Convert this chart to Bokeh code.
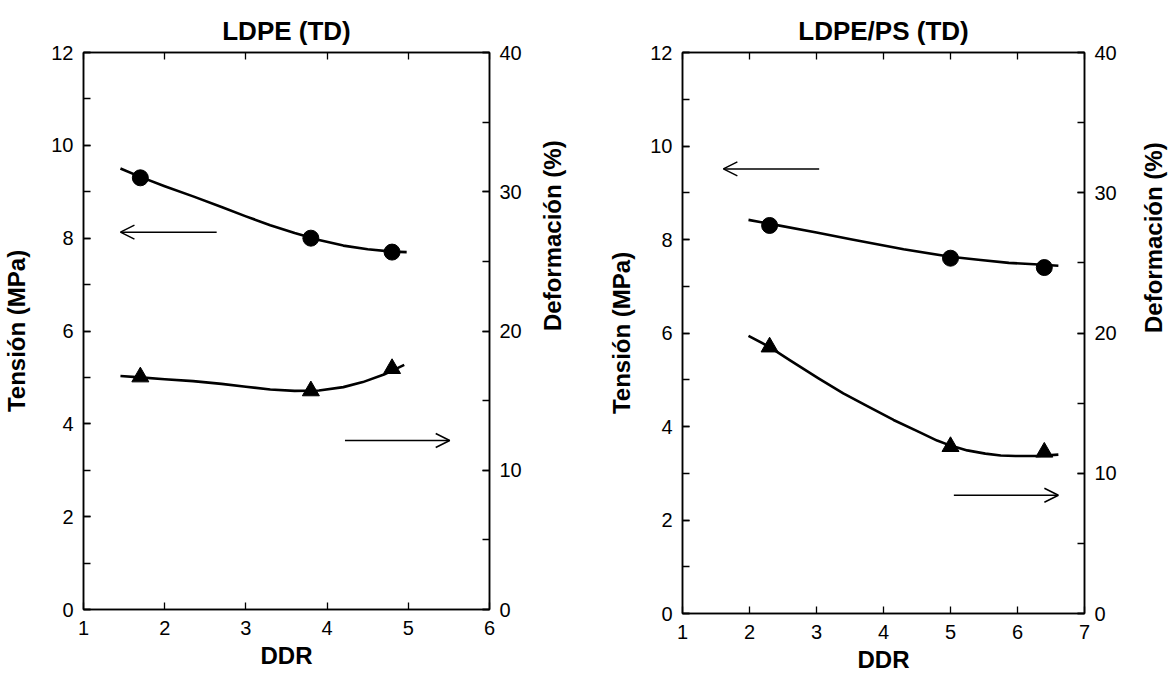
import math
from bokeh.plotting import figure
from bokeh.models import (LinearAxis, Range1d, SingleIntervalTicker, Arrow, OpenHead,
                          CustomJSTickFormatter)
from bokeh.layouts import row
from bokeh.embed import file_html
from bokeh.resources import INLINE

FONT = "Liberation Sans"

# ---------------- data: LDPE (TD) ----------------
ldpe_ddr = [1.7, 3.8, 4.8]
ldpe_tension = [9.3, 8.0, 7.7]          # MPa (left axis)
ldpe_deform = [16.7, 15.7, 17.3]        # % (right axis)
# fitted curves
ldpe_tension_curve_x = [1.455, 1.7, 2.0, 2.35, 2.7, 3.0, 3.3, 3.6, 3.9, 4.2, 4.5, 4.8, 4.98]
ldpe_tension_curve_y = [9.50, 9.32, 9.12, 8.90, 8.67, 8.47, 8.28, 8.11, 7.96, 7.84, 7.76, 7.71, 7.70]
ldpe_deform_curve_x = [1.455, 1.7, 2.0, 2.35, 2.7, 3.0, 3.3, 3.6, 3.9, 4.2, 4.44, 4.7, 4.95]
ldpe_deform_curve_y = [16.77, 16.67, 16.53, 16.40, 16.20, 16.00, 15.80, 15.70, 15.73, 15.97,
                       16.33, 16.87, 17.57]

# ---------------- data: LDPE/PS (TD) ----------------
blend_ddr = [2.3, 5.0, 6.4]
blend_tension = [8.3, 7.6, 7.4]
blend_deform = [19.0, 11.9, 11.5]
blend_tension_curve_x = [1.985, 2.29, 3.0, 3.53, 4.3, 5.0, 5.45, 5.87, 6.25, 6.61]
blend_tension_curve_y = [8.42, 8.34, 8.15, 8.00, 7.79, 7.63, 7.56, 7.50, 7.47, 7.44]
blend_deform_curve_x = [1.985, 2.29, 2.6, 3.03, 3.4, 3.78, 4.15, 4.52, 4.8, 5.0, 5.25,
                        5.52, 5.75, 5.97, 6.3, 6.61]
blend_deform_curve_y = [19.8, 19.03, 18.07, 16.77, 15.7, 14.73, 13.8, 12.97, 12.33, 11.97,
                        11.63, 11.4, 11.27, 11.23, 11.23, 11.33]

titles = ["LDPE (TD)", "LDPE/PS (TD)"]
x_label = "DDR"
y_label_left = "Tensión (MPa)"
y_label_right = "Deformación (%)"

# arrow annotations (x_start, x_end, y) in left-axis units
ldpe_arrows = [(2.64, 1.455, 8.13), (4.22, 5.51, 3.64)]
blend_arrows = [(3.04, 1.61, 9.51), (5.05, 6.61, 2.53)]


def style_axis(ax, label_size="20px"):
    ax.axis_line_width = 1.5
    ax.axis_line_color = "black"
    ax.major_tick_in = 7
    ax.major_tick_out = 0
    ax.minor_tick_in = 7
    ax.minor_tick_out = 0
    ax.major_tick_line_width = 1.3
    ax.minor_tick_line_width = 1.3
    ax.major_tick_line_color = "black"
    ax.minor_tick_line_color = "black"
    ax.major_label_text_font = FONT
    ax.major_label_text_font_size = label_size
    ax.major_label_text_color = "black"
    ax.axis_label_text_font = FONT
    ax.axis_label_text_font_size = "24px"
    ax.axis_label_text_font_style = "bold"
    ax.axis_label_text_color = "black"


def make_panel(title, xmax, ddr, tension, deform, tcx, tcy, dcx, dcy, arrows,
               bl, br, bt, bb, fw, fh, left_title_standoff, right_title_standoff):
    p = figure(frame_width=fw, frame_height=fh,
               min_border_left=bl, min_border_right=br,
               min_border_top=bt, min_border_bottom=bb,
               x_range=Range1d(1, xmax), y_range=Range1d(0, 12),
               output_backend="svg", toolbar_location=None,
               background_fill_color="white", border_fill_color="white")
    p.extra_y_ranges = {"def": Range1d(0, 40)}
    p.xgrid.visible = False
    p.ygrid.visible = False
    p.outline_line_color = "black"
    p.outline_line_width = 1.5

    p.title.text = title
    p.title.align = "center"
    p.title.text_font = FONT
    p.title.text_font_size = "26px"
    p.title.text_font_style = "bold"
    p.title.text_color = "black"
    p.title.standoff = 14

    # bottom axis
    p.xaxis.ticker = SingleIntervalTicker(interval=1, num_minor_ticks=0)
    p.xaxis.axis_label = x_label
    style_axis(p.xaxis[0])
    p.xaxis.major_label_standoff = 11
    p.xaxis.axis_label_standoff = 4

    # left axis
    p.yaxis.ticker = SingleIntervalTicker(interval=2, num_minor_ticks=2)
    p.yaxis.axis_label = y_label_left
    style_axis(p.yaxis[0])
    p.yaxis.major_label_standoff = 10
    p.yaxis.axis_label_standoff = left_title_standoff

    # right axis
    ra = LinearAxis(y_range_name="def",
                    ticker=SingleIntervalTicker(interval=10, num_minor_ticks=2),
                    axis_label=y_label_right)
    style_axis(ra)
    ra.major_label_standoff = 10
    ra.axis_label_standoff = right_title_standoff
    ra.axis_label_orientation = math.pi / 2
    p.add_layout(ra, "right")

    # top axis (ticks only, no labels)
    ta = LinearAxis(ticker=SingleIntervalTicker(interval=1, num_minor_ticks=0),
                    formatter=CustomJSTickFormatter(code="return ''"))
    style_axis(ta)
    ta.major_label_standoff = 0
    p.add_layout(ta, "above")

    # fitted curves
    p.line(tcx, tcy, line_color="black", line_width=2.6, line_join="round")
    p.line(dcx, dcy, line_color="black", line_width=2.6, line_join="round",
           y_range_name="def")

    # markers
    p.scatter(ddr, tension, marker="circle", size=16, fill_color="black",
              line_color="black")
    p.scatter(ddr, deform, marker="triangle", size=17, fill_color="black",
              line_color="black", y_range_name="def")

    for xs, xe, y in arrows:
        p.add_layout(Arrow(end=OpenHead(size=14, line_width=1.5, line_color="black"),
                           x_start=xs, y_start=y, x_end=xe, y_end=y,
                           line_width=1.5, line_color="black"))
    return p


p1 = make_panel(titles[0], 6, ldpe_ddr, ldpe_tension, ldpe_deform,
                ldpe_tension_curve_x, ldpe_tension_curve_y,
                ldpe_deform_curve_x, ldpe_deform_curve_y, ldpe_arrows,
                bl=79, br=107, bt=52, bb=50, fw=406, fh=557,
                left_title_standoff=18, right_title_standoff=28)
p2 = make_panel(titles[1], 7, blend_ddr, blend_tension, blend_deform,
                blend_tension_curve_x, blend_tension_curve_y,
                blend_deform_curve_x, blend_deform_curve_y, blend_arrows,
                bl=86, br=80, bt=51, bb=47, fw=402, fh=561,
                left_title_standoff=12, right_title_standoff=34)

layout = row(p1, p2)
open("out.html", "w").write(file_html(layout, INLINE))
